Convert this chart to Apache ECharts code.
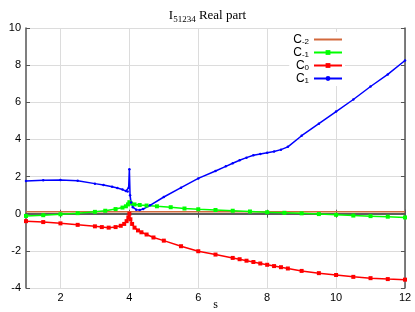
<!DOCTYPE html>
<html><head><meta charset="utf-8">
<script src="https://cdn.jsdelivr.net/npm/echarts@6/dist/echarts.min.js"></script>
<style>html,body{margin:0;padding:0;background:#fff}#c{width:415px;height:312px}</style>
</head><body><div id="c"></div>
<script>
const xTicks = [2, 4, 6, 8, 10, 12];
const yTicks = [-4, -2, 0, 2, 4, 6, 8, 10];

const sCm2 = [1, 2, 3, 4, 5, 6, 7, 8, 9, 10, 11, 12];
const vCm2 = [0.1, 0.1, 0.1, 0.1, 0.1, 0.1, 0.1, 0.1, 0.1, 0.1, 0.1, 0.1];

const sCm1 = [1, 1.5, 2, 2.5, 3, 3.3, 3.6, 3.8, 3.9, 3.96, 4.0, 4.05, 4.15, 4.3, 4.5, 4.8, 5.2, 5.6, 6, 6.5, 7, 7.5, 8, 8.5, 9, 9.5, 10, 10.5, 11, 11.5, 12];
const vCm1 = [-0.12, -0.08, -0.03, 0.03, 0.1, 0.16, 0.25, 0.33, 0.4, 0.5, 0.62, 0.55, 0.5, 0.47, 0.44, 0.4, 0.35, 0.28, 0.24, 0.2, 0.16, 0.12, 0.08, 0.05, 0.02, -0.02, -0.06, -0.1, -0.13, -0.16, -0.2];

const sC0 = [1, 1.5, 2, 2.5, 3, 3.2, 3.4, 3.6, 3.75, 3.85, 3.92, 3.97, 4.0, 4.03, 4.08, 4.15, 4.25, 4.35, 4.5, 4.7, 5, 5.5, 6, 6.5, 7, 7.2, 7.4, 7.6, 7.8, 8, 8.2, 8.4, 8.6, 9, 9.5, 10, 10.5, 11, 11.5, 12];
const vC0 = [-0.4, -0.45, -0.52, -0.6, -0.68, -0.72, -0.75, -0.72, -0.65, -0.55, -0.4, -0.2, 0.0, -0.3, -0.55, -0.75, -0.9, -1.0, -1.12, -1.28, -1.45, -1.75, -2.02, -2.2, -2.38, -2.45, -2.53, -2.6, -2.68, -2.75, -2.82, -2.88, -2.95, -3.08, -3.2, -3.3, -3.4, -3.47, -3.52, -3.55];

const sC1 = [1, 1.5, 2, 2.5, 3, 3.25, 3.5, 3.65, 3.8, 3.9, 3.95, 3.98, 4.0, 4.02, 4.05, 4.1, 4.2, 4.3, 4.4, 4.6, 5, 5.5, 6, 6.5, 6.8, 7.0, 7.2, 7.4, 7.6, 7.8, 8.0, 8.2, 8.4, 8.6, 9, 9.5, 10, 10.5, 11, 11.5, 12];
const vC1 = [1.76, 1.8, 1.82, 1.78, 1.62, 1.55, 1.45, 1.38, 1.3, 1.22, 1.2, 1.4, 2.4, 1.0, 0.6, 0.35, 0.22, 0.2, 0.25, 0.45, 0.9, 1.4, 1.9, 2.3, 2.55, 2.72, 2.88, 3.02, 3.15, 3.22, 3.28, 3.35, 3.45, 3.6, 4.2, 4.85, 5.5, 6.15, 6.85, 7.5, 8.25];

const seriesNames = ['C-2', 'C-1', 'C0', 'C1'];
const legendText = {'C-2': 'C{sub|-2}', 'C-1': 'C{sub|-1}', 'C0': 'C{sub|0}', 'C1': 'C{sub|1}'};

const zip = (s, v) => s.map((x, i) => [x, v[i]]);
const chart = echarts.init(document.getElementById('c'), null, {renderer: 'canvas'});

const axisLineStyle = {color: '#555', width: 1.5};
const gridLine = {show: true, lineStyle: {color: '#dcdcdc', width: 1}};

chart.setOption({
  animation: false,
  backgroundColor: '#fff',
  title: {
    text: 'I{sub|51234} Real part',
    left: 'center', top: 3,
    textStyle: {
      fontFamily: 'Liberation Serif', fontSize: 13, fontWeight: 'normal', color: '#000',
      rich: {sub: {fontFamily: 'Liberation Serif', fontSize: 9, padding: [7, 0, 0, 0], color: '#000'}}
    }
  },
  grid: {left: 26, right: 10, top: 28, bottom: 24, outerBoundsMode: 'none', containLabel: false},
  legend: {
    data: [
      {name: 'C-2', itemStyle: {opacity: 0}},
      {name: 'C-1'}, {name: 'C0'}, {name: 'C1'}
    ],
    orient: 'vertical', align: 'right',
    right: 70, top: 32,
    itemWidth: 28, itemHeight: 6, itemGap: 0,
    padding: [1, 2, 1, 4],
    backgroundColor: '#fff',
    formatter: n => legendText[n],
    textStyle: {
      fontFamily: 'Liberation Sans', fontSize: 12, color: '#000', lineHeight: 12,
      rich: {sub: {fontFamily: 'Liberation Sans', fontSize: 8, lineHeight: 12, padding: [5, 0, 0, 0], color: '#000'}}
    }
  },
  xAxis: [{
    type: 'value', min: 1, max: 12, position: 'bottom',
    name: 's', nameLocation: 'middle', nameGap: 11, nameMoveOverlap: false,
    nameTextStyle: {fontFamily: 'Liberation Serif', fontSize: 12, color: '#000', verticalAlign: 'top'},
    axisLine: {lineStyle: axisLineStyle},
    axisTick: {inside: true, length: 4, customValues: xTicks, lineStyle: {color: '#555'}},
    axisLabel: {customValues: xTicks, fontFamily: 'Liberation Sans', fontSize: 11, color: '#000', margin: 4},
    splitLine: gridLine
  }, {
    type: 'value', min: 1, max: 12, position: 'top',
    axisLine: {lineStyle: axisLineStyle},
    axisTick: {inside: true, length: 4, customValues: xTicks, lineStyle: {color: '#555'}},
    axisLabel: {show: false},
    splitLine: {show: false}
  }],
  yAxis: [{
    type: 'value', min: -4, max: 10, interval: 2, position: 'left',
    axisLine: {show: true, lineStyle: axisLineStyle},
    axisTick: {show: true, inside: true, length: 4, lineStyle: {color: '#555'}},
    axisLabel: {fontFamily: 'Liberation Sans', fontSize: 11, color: '#000', margin: 5},
    splitLine: gridLine
  }, {
    type: 'value', min: -4, max: 10, interval: 2, position: 'right',
    axisLine: {show: true, lineStyle: axisLineStyle},
    axisTick: {show: true, inside: true, length: 4, lineStyle: {color: '#555'}},
    axisLabel: {show: false},
    splitLine: {show: false}
  }],
  series: [
    {name: 'C-2', type: 'line', data: zip(sCm2, vCm2), showSymbol: false, symbol: 'none',
     lineStyle: {color: '#d2693c', width: 1.5}, itemStyle: {color: '#d2693c'}},
    {name: 'C-1', type: 'line', data: zip(sCm1, vCm1), symbol: 'rect', symbolSize: 4,
     lineStyle: {color: '#00ff00', width: 1.5}, itemStyle: {color: '#00ff00'}},
    {name: 'C0', type: 'line', data: zip(sC0, vC0), symbol: 'rect', symbolSize: 4,
     lineStyle: {color: '#ff0000', width: 1.5}, itemStyle: {color: '#ff0000'}},
    {name: 'C1', type: 'line', data: zip(sC1, vC1), symbol: 'circle', symbolSize: 2.5,
     lineStyle: {color: '#0000ff', width: 1.5}, itemStyle: {color: '#0000ff'}}
  ]
});
</script></body></html>
